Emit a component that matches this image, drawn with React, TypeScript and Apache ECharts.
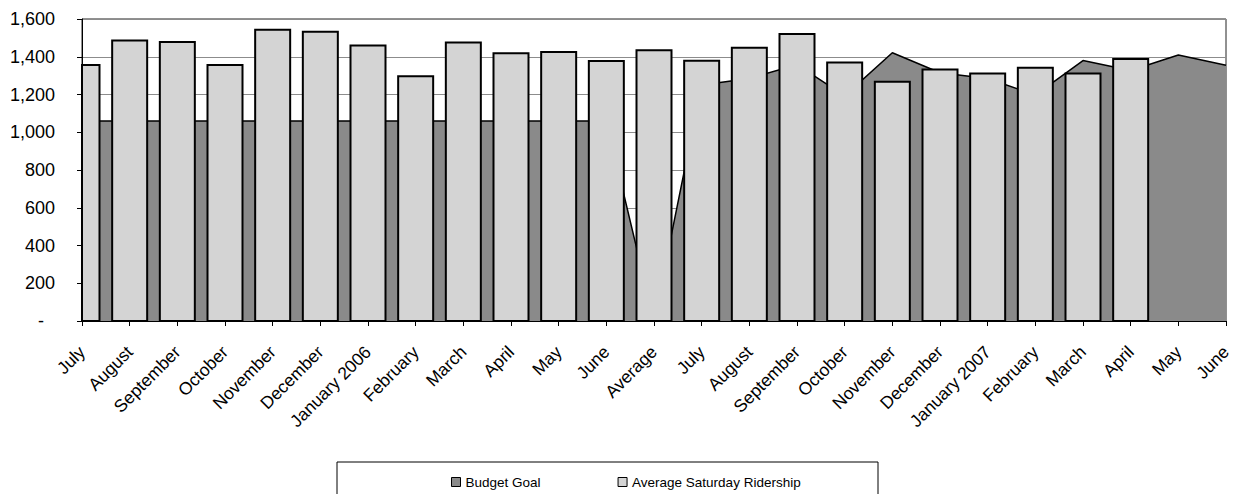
import React, { useEffect, useRef } from "react";
import * as echarts from "echarts";

// Monthly categories, fiscal 2006 then an "Average" column, then fiscal 2007
const months: string[] = [
  "July", "August", "September", "October", "November", "December",
  "January 2006", "February", "March", "April", "May", "June",
  "Average",
  "July", "August", "September", "October", "November", "December",
  "January 2007", "February", "March", "April", "May", "June",
];

// Budget goal (area); blank "Average" cell plots as zero
const budgetGoal: number[] = [
  1060, 1060, 1060, 1060, 1060, 1060, 1060, 1060, 1060, 1060, 1060, 1060,
  0,
  1250, 1285, 1358, 1193, 1421, 1315, 1285, 1197, 1380, 1327, 1409, 1355,
];

// Average Saturday ridership (columns); May/June 2007 not yet reported
const saturdayRidership: (number | null)[] = [
  1356, 1486, 1478, 1356, 1543, 1533, 1459, 1297, 1476, 1418, 1425, 1377,
  1435,
  1379, 1448, 1520, 1370, 1267, 1332, 1311, 1342, 1311, 1388, null, null,
];

const yTicks = { min: 0, max: 1600, interval: 200 };

const FONT = "'Liberation Sans', Arial, sans-serif";
const AREA_COLOR = "#8a8a8a";
const BAR_COLOR = "#d4d4d4";

// Column data as [categoryIndex, value] pairs, skipping months with no figure
const barData = saturdayRidership
  .map((v, i) => (v == null ? null : [i, v]))
  .filter((d) => d !== null) as number[][];

export default function App() {
  const ref = useRef<HTMLDivElement>(null);

  useEffect(() => {
    if (!ref.current) return;
    const chart = echarts.init(ref.current, undefined, { renderer: "svg" });
    chart.setOption({
      animation: false,
      backgroundColor: "#ffffff",
      textStyle: { fontFamily: FONT },
      grid: {
        left: 82,
        right: 9,
        top: 19,
        bottom: 173,
        show: true,
        borderColor: "#222",
        borderWidth: 1,
      },
      legend: {
        left: 446,
        top: 470,
        itemWidth: 9,
        itemHeight: 9,
        itemGap: 77,
        icon: "rect",
        textStyle: { fontFamily: FONT, fontSize: 13.5, color: "#000" },
        data: [
          { name: "Budget Goal", itemStyle: { color: AREA_COLOR, borderColor: "#000", borderWidth: 1 } },
          { name: "Average Saturday Ridership", itemStyle: { color: BAR_COLOR, borderColor: "#000", borderWidth: 1 } },
        ],
      },
      graphic: [
        {
          type: "rect",
          shape: { x: 337, y: 462, width: 541, height: 60 },
          style: { fill: "none", stroke: "#000", lineWidth: 1 },
        },
      ],
      xAxis: {
        type: "category",
        data: months,
        boundaryGap: false,
        axisLine: { lineStyle: { color: "#000", width: 1 } },
        axisTick: { show: true, length: 5, interval: 0, lineStyle: { color: "#000" } },
        axisLabel: {
          interval: 0,
          rotate: 45,
          margin: 28,
          fontSize: 17.5,
          fontFamily: FONT,
          color: "#000",
        },
        splitLine: { show: false },
      },
      yAxis: {
        type: "value",
        min: yTicks.min,
        max: yTicks.max,
        interval: yTicks.interval,
        axisLine: { show: true, lineStyle: { color: "#000", width: 1 } },
        axisTick: { show: true, length: 5, lineStyle: { color: "#000" } },
        axisLabel: {
          margin: 27,
          fontSize: 18,
          fontFamily: FONT,
          color: "#000",
          formatter: (v: number) =>
            v === 0 ? "{dash|-}" : v.toLocaleString("en-US"),
          rich: {
            dash: { fontSize: 18, fontFamily: FONT, color: "#000", padding: [0, 11, 0, 0] },
          },
        },
        splitLine: { show: true, lineStyle: { color: "#8c8c8c", width: 1 } },
      },
      series: [
        {
          name: "Budget Goal",
          type: "line",
          z: 2,
          data: budgetGoal,
          symbol: "none",
          lineStyle: { color: "#000", width: 1.5 },
          itemStyle: { color: AREA_COLOR },
          areaStyle: { color: AREA_COLOR, opacity: 1 },
        },
        {
          name: "Average Saturday Ridership",
          type: "custom",
          z: 3,
          data: barData,
          encode: { x: 0, y: 1 },
          itemStyle: { color: BAR_COLOR },
          // Columns centred on each category tick, clipped to the plot area
          renderItem: (params: any, api: any) => {
            const idx = api.value(0);
            const val = api.value(1);
            const top = api.coord([idx, val]);
            const base = api.coord([idx, 0]);
            const w = 35;
            const cs = params.coordSys;
            const shape = echarts.graphic.clipRectByRect(
              { x: top[0] - w / 2, y: top[1], width: w, height: base[1] - top[1] },
              { x: cs.x, y: cs.y, width: cs.width, height: cs.height }
            );
            if (!shape) return null;
            return {
              type: "rect",
              shape,
              style: { fill: BAR_COLOR, stroke: "#000", lineWidth: 2 },
            };
          },
        },
      ],
    });
    return () => chart.dispose();
  }, []);

  return (
    <div
      ref={ref}
      style={{ position: "fixed", left: 0, top: 0, width: 1235, height: 494 }}
    />
  );
}
